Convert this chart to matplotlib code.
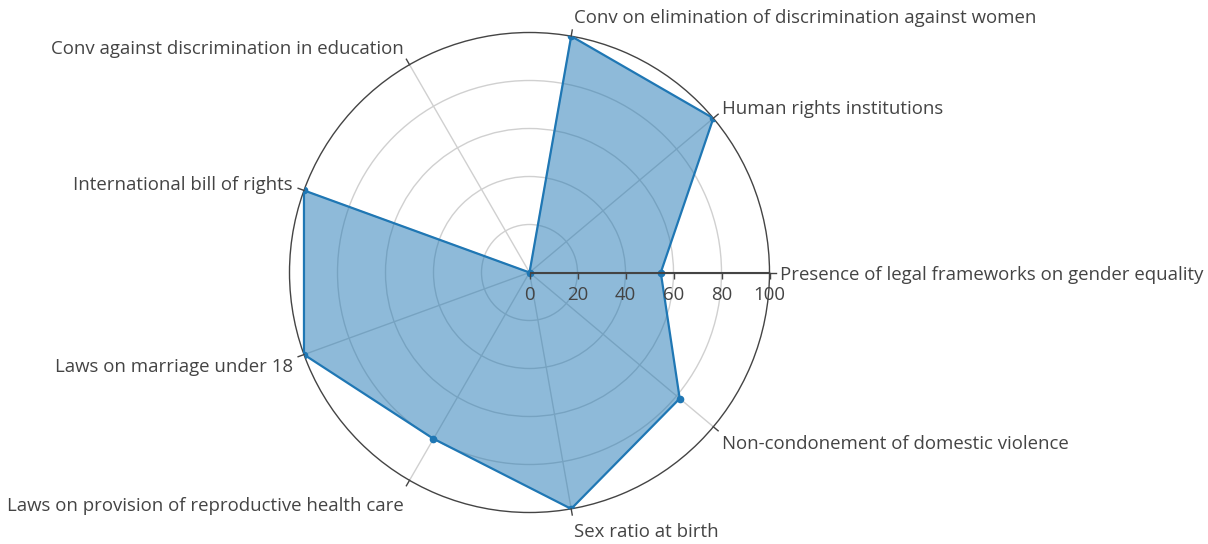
import numpy as np
import matplotlib
matplotlib.use("Agg")
import matplotlib.pyplot as plt

# ---- data ----
categories = [
    "Presence of legal frameworks on gender equality",
    "Human rights institutions",
    "Conv on elimination of discrimination against women",
    "Conv against discrimination in education",
    "International bill of rights",
    "Laws on marriage under 18",
    "Laws on provision of reproductive health care",
    "Sex ratio at birth",
    "Non-condonement of domestic violence",
]
values = [54.7, 100, 100, 0, 100, 100, 80, 100, 81.7]
radial_ticks = [0, 20, 40, 60, 80, 100]

# ---- style ----
plt.rcParams["font.family"] = ["Open Sans", "DejaVu Sans"]
TXT = "#444444"
LINE = "#1f77b4"
GRID = "#d0d0d0"
FS = 13.4

W, H = 1208, 544
fig = plt.figure(figsize=(W / 100, H / 100), dpi=100)
cx, cy, R = 529.5, 272.5, 240.0
ax = fig.add_axes([(cx - R) / W, (H - cy - R) / H, 2 * R / W, 2 * R / H], projection="polar")

n = len(categories)
theta = np.deg2rad(np.arange(n) * 360.0 / n)

ax.set_ylim(0, 100)
ax.set_axisbelow(True)
ax.set_xticks(theta)
ax.set_xticklabels([])
ax.set_yticks(radial_ticks[1:-1])
ax.set_yticklabels([])
ax.xaxis.grid(True, color=GRID, lw=1)
ax.yaxis.grid(True, color=GRID, lw=1)
ax.spines["polar"].set_color(TXT)
ax.spines["polar"].set_linewidth(1)
ax.tick_params(axis="both", length=0)

# outward angular ticks
for t in theta:
    ax.plot([t, t], [100, 102.6], color=TXT, lw=1, clip_on=False, zorder=4)

# data polygon
th_c = np.append(theta, theta[0])
v_c = np.append(values, values[0])
ax.fill(th_c, v_c, color=LINE, alpha=0.5, lw=0, zorder=2)
ax.plot(th_c, v_c, color=LINE, lw=1.6, zorder=3)
ax.plot(theta, values, "o", color=LINE, ms=4.5, zorder=3)

# radial axis line with ticks and labels
ax.plot([0, 0], [0, 100], color=TXT, lw=1.5, zorder=4, clip_on=False, solid_capstyle="butt")
tick_marker = [(0, 0), (0, -1)]
for v in radial_ticks:
    ax.plot([0], [v], marker=tick_marker, ms=9, mec=TXT, mew=1, ls="none", zorder=4, clip_on=False)
    ax.annotate(str(v), xy=(0, v), xytext=(0, -27), textcoords="offset pixels",
                ha="center", va="baseline", fontsize=FS, color=TXT, annotation_clip=False)

# angular labels (pixel offsets from the outer end of each spoke)
label_offsets = [(11, -7), (9, 4), (3, 13), (-6, 11), (-11, 0), (-11, -17), (-6, -31), (3, -28), (9, -22)]
for t, lab, (dx, dy) in zip(theta, categories, label_offsets):
    ha = "left" if dx > 0 else "right"
    ax.annotate(lab, xy=(t, 100), xytext=(dx, dy), textcoords="offset pixels",
                ha=ha, va="baseline", fontsize=FS, color=TXT, annotation_clip=False)

fig.savefig("out.png", dpi=100)
